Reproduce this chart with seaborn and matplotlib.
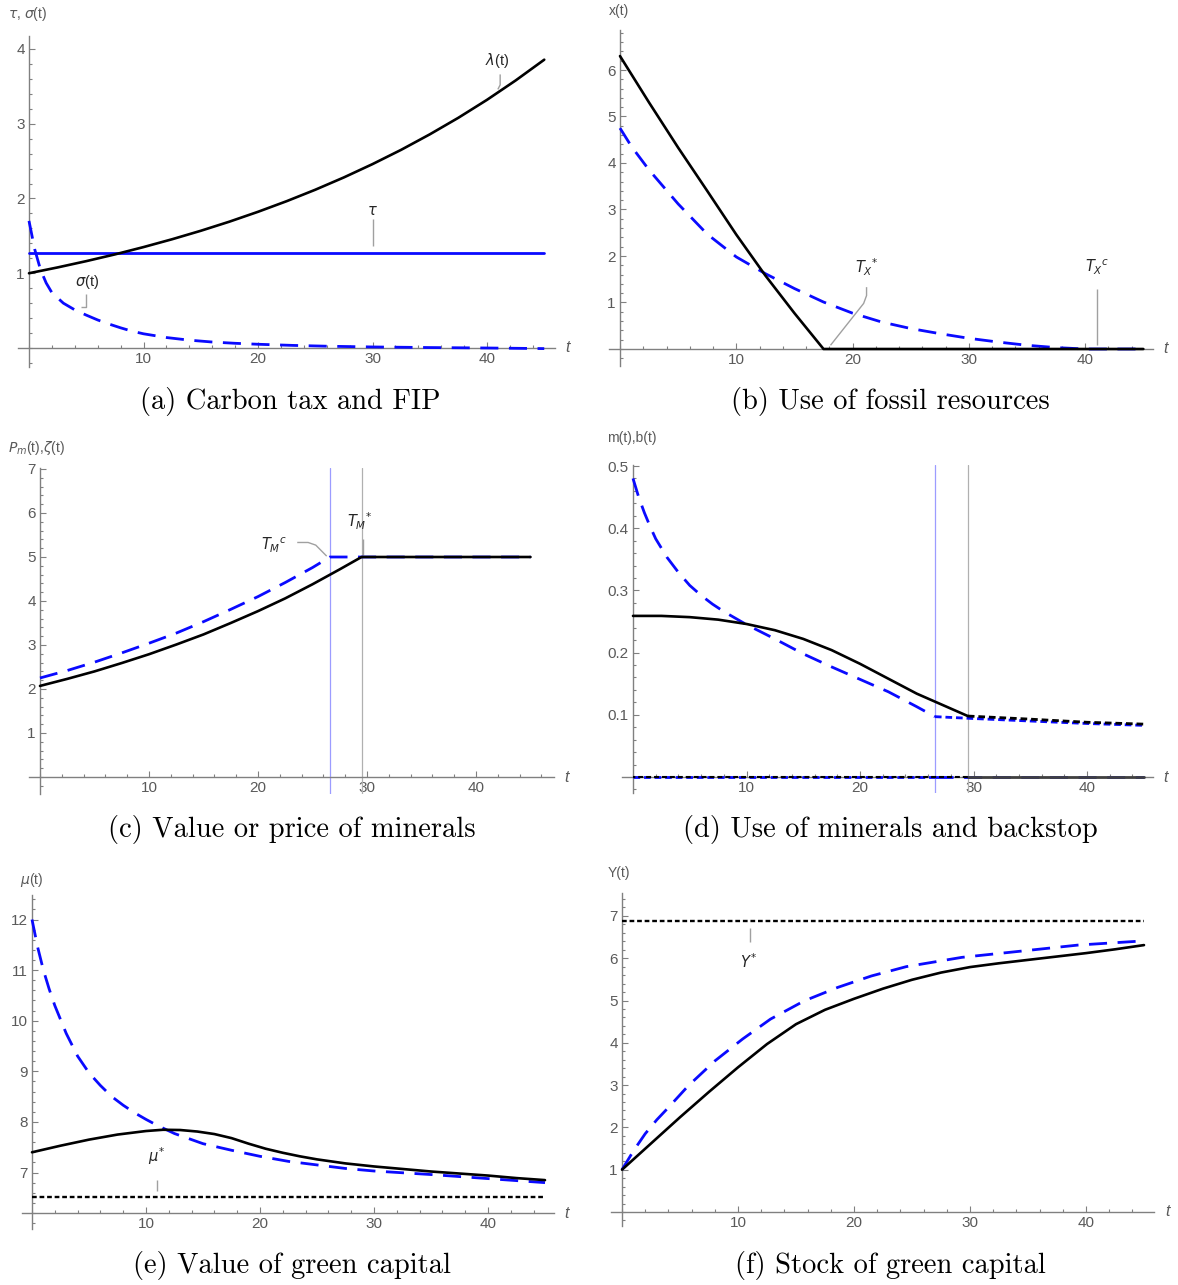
import matplotlib
matplotlib.use("Agg")
import matplotlib.pyplot as plt
import seaborn as sns
from matplotlib.ticker import FixedLocator, MultipleLocator

# ---------------- data ----------------
# (a) carbon tax and FIP
lam_t = [0, 2.5, 5, 7.5, 10, 12.5, 15, 17.5, 20, 22.5, 25, 27.5, 30, 32.5, 35, 37.5, 40, 42.5, 45]
lam_v = [1.00, 1.078, 1.162, 1.252, 1.350, 1.455, 1.568, 1.690, 1.822, 1.964, 2.117, 2.282,
         2.460, 2.651, 2.858, 3.080, 3.320, 3.579, 3.857]
tau_t = [0, 45]
tau_v = [1.27, 1.27]
sig_t = [0, 0.5, 1, 1.5, 2, 3, 4, 5, 6, 7, 8, 9, 10, 12, 14, 16, 18, 20, 23, 26, 30, 35, 40, 45]
sig_v = [1.70, 1.32, 1.05, 0.87, 0.74, 0.60, 0.51, 0.44, 0.375, 0.32, 0.27, 0.225, 0.19, 0.14,
         0.105, 0.08, 0.063, 0.05, 0.035, 0.024, 0.014, 0.006, 0.0, -0.008]

# (b) use of fossil resources
xs_t = [0, 2.5, 5, 7.5, 10, 12.5, 15, 17.5, 45]
xs_v = [6.30, 5.30, 4.33, 3.40, 2.46, 1.58, 0.77, 0.0, 0.0]
xc_t = [0, 1, 2.5, 5, 7.5, 10, 12.5, 15, 17.5, 20, 22.5, 25, 27.5, 30, 32.5, 35, 37.5, 40, 45]
xc_v = [4.75, 4.35, 3.85, 3.12, 2.47, 1.98, 1.62, 1.30, 1.01, 0.77, 0.58, 0.44, 0.33, 0.23,
        0.15, 0.08, 0.03, 0.0, 0.0]

# (c) value or price of minerals
pm_t = [0, 2.5, 5, 7.5, 10, 12.5, 15, 17.5, 20, 22.5, 25, 27.5, 29.5, 45]
pm_v = [2.07, 2.23, 2.40, 2.59, 2.79, 3.01, 3.24, 3.50, 3.77, 4.06, 4.38, 4.72, 5.00, 5.00]
zc_t = [0, 2.5, 5, 7.5, 10, 12.5, 15, 17.5, 20, 22.5, 25, 26.6, 45]
zc_v = [2.25, 2.42, 2.61, 2.82, 3.04, 3.27, 3.53, 3.81, 4.10, 4.42, 4.76, 5.00, 5.00]
TMc, TMs = 26.6, 29.5

# (d) use of minerals and backstop
ms_t = [0, 2.5, 5, 7.5, 10, 12.5, 15, 17.5, 20, 22.5, 25, 27.5, 29.5]
ms_v = [0.259, 0.259, 0.257, 0.253, 0.246, 0.236, 0.222, 0.204, 0.182, 0.158, 0.134, 0.114, 0.098]
ms_after_t = [29.5, 45]
ms_after_v = [0.0, 0.0]
bs_before_t = [0, 29.5]
bs_before_v = [0.0, 0.0]
bs_t = [29.5, 35, 40, 45]
bs_v = [0.098, 0.093, 0.088, 0.085]
mc_t = [0, 0.5, 1, 1.5, 2, 3, 4, 5, 6, 7, 8, 10, 12.5, 15, 17.5, 20, 22.5, 25, 26.6]
mc_v = [0.48, 0.45, 0.425, 0.403, 0.383, 0.353, 0.329, 0.308, 0.292, 0.278, 0.266, 0.245,
        0.222, 0.198, 0.177, 0.157, 0.137, 0.113, 0.097]
mc_after_t = [26.6, 45]
mc_after_v = [0.0, 0.0]
bc_before_t = [0, 26.6]
bc_before_v = [0.0, 0.0]
bc_t = [26.6, 30, 35, 40, 45]
bc_v = [0.097, 0.094, 0.090, 0.086, 0.083]

# (e) value of green capital
mus_t = [0, 2.5, 5, 7.5, 10, 11.5, 13, 14.5, 16, 17.5, 19, 20.5, 22, 23.5, 25, 27.5, 30,
         32.5, 35, 37.5, 40, 42.5, 45]
mus_v = [7.40, 7.53, 7.65, 7.75, 7.82, 7.845, 7.84, 7.81, 7.76, 7.68, 7.57, 7.47, 7.39, 7.32,
         7.26, 7.18, 7.12, 7.07, 7.02, 6.98, 6.94, 6.89, 6.85]
muc_t = [0, 0.5, 1, 1.5, 2, 3, 4, 5, 6, 7, 8, 9, 10, 11, 12.5, 15, 17.5, 20, 22.5, 25, 27.5,
         30, 35, 40, 45]
muc_v = [12.0, 11.45, 11.0, 10.63, 10.3, 9.75, 9.3, 8.97, 8.72, 8.5, 8.33, 8.18, 8.05, 7.93,
         7.77, 7.57, 7.44, 7.32, 7.22, 7.15, 7.08, 7.03, 6.96, 6.88, 6.80]
mubar_t = [0, 45]
mubar_v = [6.52, 6.52]

# (f) stock of green capital
ys_t = [0, 2.5, 5, 7.5, 10, 12.5, 15, 17.5, 20, 22.5, 25, 27.5, 30, 32.5, 35, 37.5, 40, 42.5, 45]
ys_v = [1.0, 1.62, 2.24, 2.84, 3.42, 3.97, 4.44, 4.78, 5.04, 5.28, 5.49, 5.66, 5.79, 5.88,
        5.96, 6.04, 6.12, 6.21, 6.31]
yc_t = [0, 1, 2, 3, 4, 5.7, 8, 10.4, 12.8, 15.7, 18.6, 21.5, 24.5, 29.3, 34.5, 39.3, 45]
yc_v = [1.0, 1.45, 1.85, 2.18, 2.47, 2.98, 3.57, 4.09, 4.56, 4.99, 5.31, 5.58, 5.80, 6.02,
        6.17, 6.31, 6.41]
ybar_t = [0, 45]
ybar_v = [6.87, 6.87]

captions = ["(a) Carbon tax and FIP", "(b) Use of fossil resources",
            "(c) Value or price of minerals", "(d) Use of minerals and backstop",
            "(e) Value of green capital", "(f) Stock of green capital"]

# ---------------- style ----------------
sns.set_style("white")
plt.rcParams['font.family'] = ['Liberation Sans', 'DejaVu Sans']
plt.rcParams['mathtext.fontset'] = 'dejavusans'

W, H = 1178, 1285
fig = plt.figure(figsize=(W / 100, H / 100), dpi=100)

BLACK = '#000000'
BLUE = '#0a0aff'
GRAY = '#a0a0a0'
AXC = '#808080'
TXTC = '#5a5a5a'
LONG = (0, (6.5, 3.8))
DOT = (0, (2.0, 1.2))
SHORT = (0, (2.4, 1.4))
LWK = 1.9
LWB = 2.0


def make_ax(ox, oy, sx, sy, xlim, ylim, yref, yticks, yminor, ylab, ylab_xy, ylabfmt=None):
    left = ox + xlim[0] * sx
    right = ox + xlim[1] * sx
    top = oy - (ylim[1] - yref) * sy
    bottom = oy - (ylim[0] - yref) * sy
    ax = fig.add_axes([left / W, 1 - bottom / H, (right - left) / W, (bottom - top) / H])
    ax.set_xlim(xlim)
    ax.set_ylim(ylim)
    ax.patch.set_alpha(0)
    for s in ['top', 'right']:
        ax.spines[s].set_visible(False)
    ax.spines['left'].set_position(('data', 0))
    ax.spines['bottom'].set_position(('data', yref))
    for s in ['left', 'bottom']:
        ax.spines[s].set_color(AXC)
        ax.spines[s].set_linewidth(1.0)
    ax.xaxis.set_major_locator(FixedLocator([10, 20, 30, 40]))
    ax.xaxis.set_minor_locator(MultipleLocator(2))
    ax.yaxis.set_major_locator(FixedLocator(yticks))
    ax.yaxis.set_minor_locator(MultipleLocator(yminor))
    if ylabfmt is not None:
        ax.set_yticklabels([ylabfmt % v for v in yticks])
    ax.tick_params(which='both', bottom=True, left=True, top=False, right=False,
                   direction='in', color=AXC, labelcolor=TXTC,
                   labelsize=11, width=0.8, pad=3)
    ax.tick_params(which='major', length=4.5)
    ax.tick_params(which='minor', length=2.5)
    ax.grid(False)
    ax.text(xlim[1] + 0.9, yref, 't', style='italic', color=TXTC, fontsize=11.5,
            ha='left', va='center', clip_on=False)
    fig.text(ylab_xy[0] / W, 1 - ylab_xy[1] / H, ylab, color=TXTC, fontsize=10,
             ha='left', va='center')
    return ax


def line(ax, t, v, color, ls='-', lw=LWK, z=3):
    sns.lineplot(x=t, y=v, ax=ax, color=color, linestyle=ls, linewidth=lw,
                 sort=False, estimator=None, legend=False, zorder=z)


def callout(ax, xs, ys):
    ax.plot(xs, ys, color=GRAY, lw=1.0, zorder=2, solid_capstyle='butt')


# ---------------- (a) ----------------
ax = make_ax(29, 348, 11.45, 74.75, (-1.0, 45.95), (-0.25, 4.18), 0,
             [1, 2, 3, 4], 0.2, r'$\tau$, $\sigma$(t)', (8, 14))
line(ax, tau_t, tau_v, BLUE, '-', LWB)
line(ax, sig_t, sig_v, BLUE, LONG, LWB)
line(ax, lam_t, lam_v, BLACK, '-', LWK, 4)
ax.text(40.9, 3.84, r'$\lambda$(t)', fontsize=10.5, ha='center', va='center')
callout(ax, [41.15, 41.15, 40.95], [3.66, 3.52, 3.46])
ax.text(30.0, 1.83, r'$\tau$', fontsize=10.5, ha='center', va='center')
callout(ax, [30.0, 30.0], [1.72, 1.36])
ax.text(5.1, 0.88, r'$\sigma$(t)', fontsize=10.5, ha='center', va='center')
callout(ax, [5.0, 5.0, 4.5], [0.72, 0.55, 0.55])

# ---------------- (b) ----------------
ax = make_ax(620, 349, 11.63, 46.5, (-0.98, 45.8), (-0.36, 6.85), 0,
             [1, 2, 3, 4, 5, 6], 0.2, 'x(t)', (609, 11))
line(ax, xc_t, xc_v, BLUE, LONG, LWB)
line(ax, xs_t, xs_v, BLACK, '-', LWK, 4)
ax.text(21.2, 1.76, r'$T_X{}^{*}$', fontsize=10.5, ha='center', va='center')
callout(ax, [21.2, 21.2, 20.95, 18.1], [1.33, 1.15, 0.98, 0.08])
ax.text(41.0, 1.76, r'$T_X{}^{c}$', fontsize=10.5, ha='center', va='center')
callout(ax, [41.0, 41.0], [1.30, 0.08])

# ---------------- (c) ----------------
ax = make_ax(40, 777, 10.9, 44.0, (-0.97, 47.2), (-0.38, 7.02), 0,
             [1, 2, 3, 4, 5, 6, 7], 0.2, r'$P_m$(t),$\zeta$(t)', (8, 448))
ax.axvline(TMc, color='#9c9cff', lw=0.9, zorder=1)
ax.axvline(TMs, color='#b0b0b0', lw=0.9, zorder=1)
line(ax, zc_t, zc_v, BLUE, LONG, LWB)
line(ax, pm_t, pm_v, BLACK, '-', LWK, 4)
ax.text(21.5, 5.27, r'$T_M{}^{c}$', fontsize=10.5, ha='center', va='center')
callout(ax, [23.6, 24.6, 25.3, 26.3], [5.33, 5.33, 5.27, 5.02])
ax.text(29.3, 5.82, r'$T_M{}^{*}$', fontsize=10.5, ha='center', va='center')
callout(ax, [29.6, 29.6], [5.42, 5.04])

# ---------------- (d) ----------------
ax = make_ax(633, 777, 11.35, 622, (-0.96, 45.8), (-0.026, 0.502), 0,
             [0.1, 0.2, 0.3, 0.4, 0.5], 0.02, 'm(t),b(t)', (607, 438), '%.1f')
ax.axvline(TMc, color='#9c9cff', lw=0.9, zorder=1)
ax.axvline(TMs, color='#b0b0b0', lw=0.9, zorder=1)
line(ax, mc_t, mc_v, BLUE, LONG, LWB)
line(ax, mc_after_t, mc_after_v, BLUE, LONG, LWB)
line(ax, bc_before_t, bc_before_v, BLUE, SHORT, LWB)
line(ax, bc_t, bc_v, BLUE, SHORT, LWB)
line(ax, ms_t, ms_v, BLACK, '-', LWK, 4)
line(ax, ms_after_t, ms_after_v, '#404040', '-', 2.0, 4)
line(ax, bs_before_t, bs_before_v, BLACK, (1.3, (2.4, 1.4)), 1.5, 4)
line(ax, bs_t, bs_v, BLACK, SHORT, LWB, 4)

# ---------------- (e) ----------------
ax = make_ax(32, 1213, 11.4, 50.6, (-0.92, 45.8), (5.88, 12.48), 6.2,
             [7, 8, 9, 10, 11, 12], 0.2, r'$\mu$(t)', (20, 880))
line(ax, muc_t, muc_v, BLUE, LONG, LWB)
line(ax, mus_t, mus_v, BLACK, '-', LWK, 4)
line(ax, mubar_t, mubar_v, BLACK, DOT, 1.7, 4)
ax.text(10.9, 7.32, r'$\mu^{*}$', fontsize=10.5, ha='center', va='center')
callout(ax, [11.0, 11.0], [6.86, 6.64])

# ---------------- (f) ----------------
ax = make_ax(622, 1212, 11.6, 42.3, (-0.97, 45.9), (-0.32, 7.55), 0,
             [1, 2, 3, 4, 5, 6, 7], 0.2, 'Y(t)', (608, 873))
line(ax, yc_t, yc_v, BLUE, LONG, LWB)
line(ax, ys_t, ys_v, BLACK, '-', LWK, 4)
line(ax, ybar_t, ybar_v, BLACK, DOT, 1.7, 4)
ax.text(10.9, 5.92, r'$Y^{*}$', fontsize=10.5, ha='center', va='center')
callout(ax, [11.0, 11.0], [6.72, 6.38])

# ---------------- captions ----------------
cap_pos = [(290, 401), (890, 401), (292, 829), (890, 829), (292, 1265), (890, 1265)]
for (cx, cy), c in zip(cap_pos, captions):
    fig.text(cx / W, 1 - cy / H, c, fontfamily='cmr10', fontsize=20.5,
             ha='center', va='center', color='black')

fig.savefig('out.png', dpi=100)
